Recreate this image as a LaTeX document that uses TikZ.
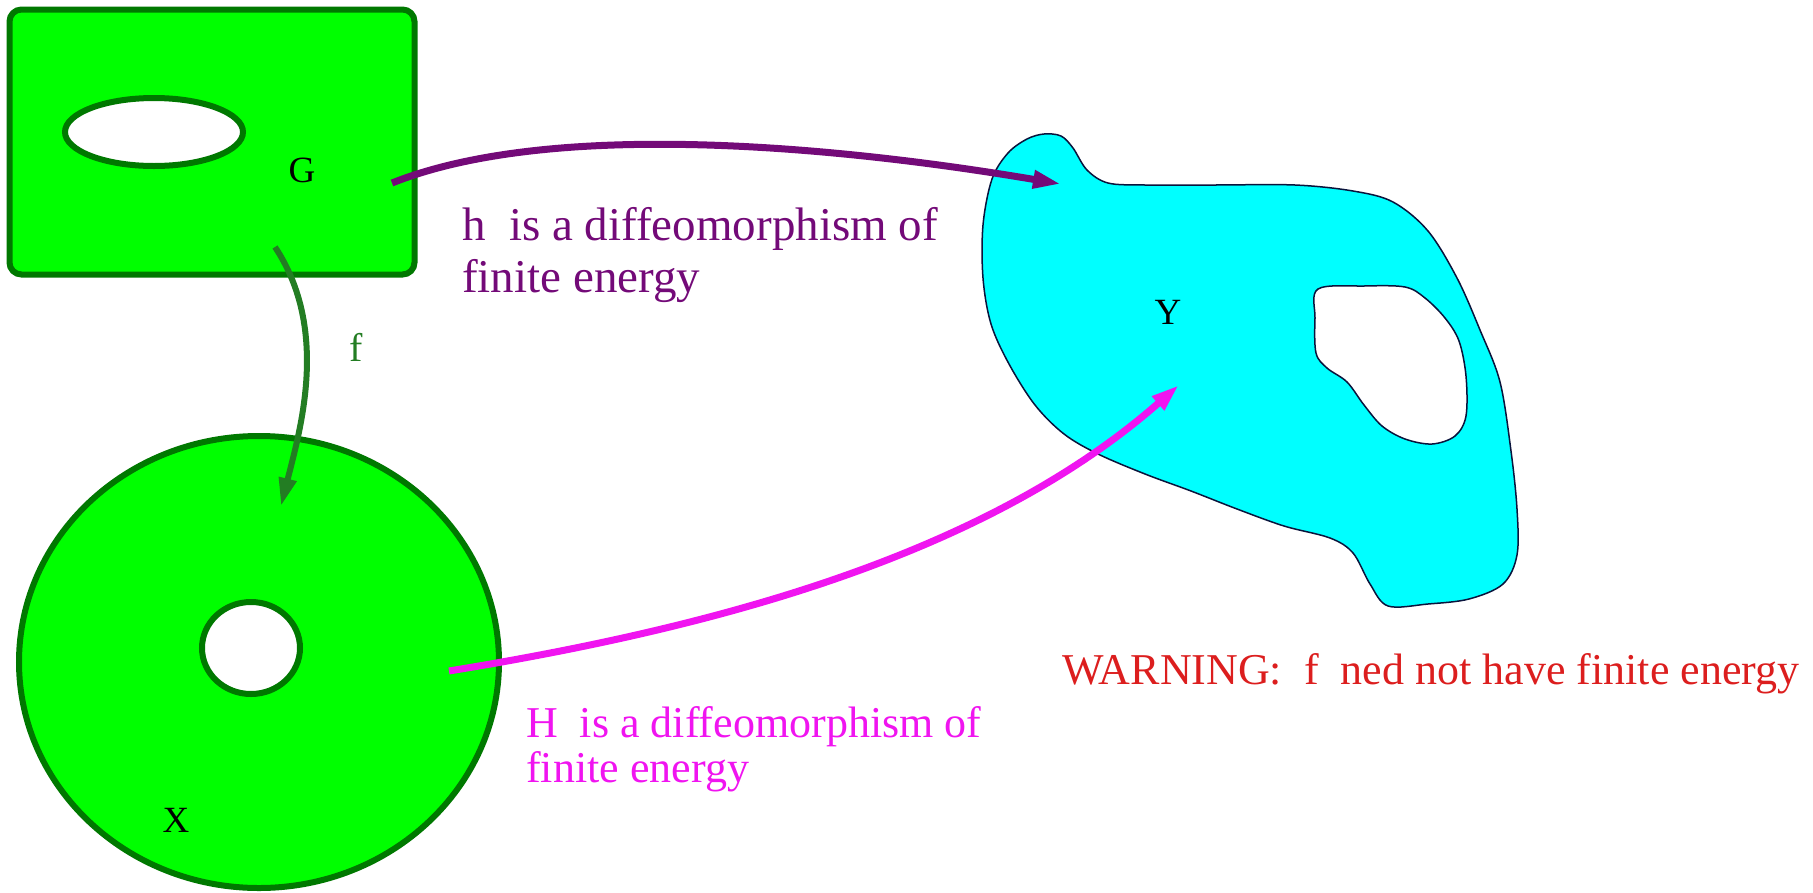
\documentclass[tikz,border=0pt]{standalone}
\usepackage{fontspec}
\setmainfont{Liberation Serif}
\usetikzlibrary{arrows.meta, positioning, shapes.geometric}

\definecolor{limefill}{RGB}{0,255,0}
\definecolor{darkrim}{RGB}{0,120,0}
\definecolor{fgreen}{RGB}{35,125,35}
\definecolor{hpurple}{RGB}{115,10,120}
\definecolor{Hmagenta}{RGB}{240,20,240}
\definecolor{cyanfill}{RGB}{0,255,255}
\definecolor{rim}{RGB}{10,20,60}
\definecolor{warnred}{RGB}{220,30,30}

\begin{document}
\begin{tikzpicture}[x=1pt, y=-1pt,
    region/.style={fill=limefill, draw=darkrim, line width=6pt},
    hole/.style={ellipse, fill=white, draw=darkrim, line width=6pt},
    lbl/.style={inner sep=0pt, font=\fontsize{37}{37}\selectfont},
    note/.style={inner sep=0pt, anchor=west, align=left},
    arrow/.style={-{Triangle[length=28pt,width=17pt]}, line width=7pt},
]
\useasboundingbox (0,0) rectangle (1813,892);

% G
\node[region, rounded corners=12pt, minimum width=405pt, minimum height=265pt] (Gset) at (212,142) {};
\node[hole, minimum width=178pt, minimum height=68pt] (Ghole) at (154,132) {};
\node[lbl] (Glab) at (302,170) {G};

% X
\node[region, ellipse, minimum width=480pt, minimum height=452pt] (Xset) at (259,662) {};
\node[hole, minimum width=98pt, minimum height=92pt] (Xhole) at (251,648) {};
\node[lbl] (Xlab) at (176,820) {X};

% Y
\draw[fill=cyanfill, draw=rim, line width=1.5pt, even odd rule]
  plot[smooth cycle, tension=0.55] coordinates {
    (1008,153) (1027,139) (1044,134) (1061,136) (1073,148) (1087,170) (1108,183)
    (1145,185) (1214,185) (1295,185) (1353,191) (1393,202) (1428,231) (1457,278)
    (1480,330) (1500,382) (1511,451) (1517,509) (1517,555) (1503,584) (1469,599)
    (1428,604) (1388,606) (1370,584) (1353,553) (1330,538) (1284,526) (1237,509)
    (1191,491) (1145,474) (1098,454) (1064,434) (1035,405) (1009,364) (991,324)
    (983,278) (983,225) (992,179)}
  plot[smooth cycle, tension=0.55] coordinates {
    (1318,289) (1364,286) (1405,287) (1425,298) (1445,318) (1459,341) (1466,376)
    (1466,416) (1455,436) (1432,444) (1405,439) (1382,426) (1364,405) (1347,382)
    (1327,368) (1316,353) (1315,318)};
\node[lbl] (Ylab) at (1168,312) {Y};

% maps
\coordinate (Gout) at (392,183);
\coordinate (Gdown) at (275,247);
\coordinate (Xin) at (281,506);
\coordinate (Xout) at (449,671);
\coordinate (Yin) at (1061,184);
\coordinate (Ypt) at (1179,385);
\draw[arrow, hpurple] (Gout) .. controls (550,120) and (830,145) .. (Yin);
\draw[arrow, fgreen, line width=6pt] (Gdown) .. controls (330,330) and (300,430) .. (Xin);
\draw[arrow, Hmagenta] (Xout) .. controls (700,630) and (980,560) .. (Ypt);

\node[lbl, text=fgreen, font=\fontsize{40}{40}\selectfont] (flab) at (356,347) {f};
\node[note, text=hpurple, font=\fontsize{47}{52}\selectfont] (hnote) at (462,255) {h\ \ is a diffeomorphism of\\finite energy};
\node[note, text=Hmagenta, font=\fontsize{44}{45}\selectfont] (Hnote) at (526,749) {H\ \ is a diffeomorphism of\\finite energy};
\node[note, text=warnred, font=\fontsize{44}{44}\selectfont] (warn) at (1062,674) {WARNING:\ \ f\ \ ned not have finite energy};
\end{tikzpicture}
\end{document}
